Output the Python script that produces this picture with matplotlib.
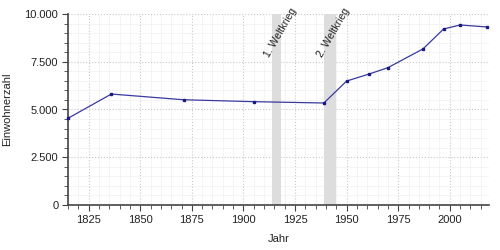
import matplotlib
matplotlib.use('Agg')
import matplotlib.pyplot as plt
from matplotlib.ticker import MultipleLocator, FuncFormatter

# Einwohnerentwicklung
jahre = [1815, 1836, 1871, 1905, 1939, 1950, 1961, 1970, 1987, 1997, 2005, 2018]
einwohner = [4540, 5810, 5510, 5410, 5340, 6490, 6860, 7190, 8170, 9215, 9425, 9320]

kriege = [(1914, 1918, '1. Weltkrieg'), (1939, 1945, '2. Weltkrieg')]

plt.rcParams['font.family'] = ['Liberation Sans', 'DejaVu Sans']
plt.rcParams['font.size'] = 8

fig = plt.figure(figsize=(5, 2.5), dpi=100)
ax = fig.add_axes([0.136, 0.18, 0.842, 0.764])

ax.set_xlim(1815, 2019)
ax.set_ylim(0, 10000)

for a, b, name in kriege:
    ax.axvspan(a, b, color='#dddddd', zorder=1, lw=0)
    ax.text((a + b) / 2 + 6.3, 10400, name, rotation=60, ha='right', va='top',
            fontsize=7.5, color='#222222', zorder=3, rotation_mode='anchor')

ax.plot(jahre, einwohner, color='#3a3a9e', lw=0.9, marker='s', ms=1.8,
        mec='#1a1a80', mfc='#1a1a80', zorder=4, clip_on=False)

ax.xaxis.set_major_locator(MultipleLocator(25))
ax.xaxis.set_minor_locator(MultipleLocator(5))
ax.yaxis.set_major_locator(MultipleLocator(2500))
ax.yaxis.set_minor_locator(MultipleLocator(500))
ax.yaxis.set_major_formatter(FuncFormatter(lambda v, p: f'{int(v):,}'.replace(',', '.')))

ax.grid(which='major', color='#c8c8c8', ls=':', lw=0.8, zorder=0)
ax.grid(which='minor', color='#f0f0f0', ls='-', lw=0.5, zorder=0)
ax.set_axisbelow(True)

for s in ['top', 'right']:
    ax.spines[s].set_visible(False)
for s in ['left', 'bottom']:
    ax.spines[s].set_color('#444444')
    ax.spines[s].set_linewidth(1.2)

ax.tick_params(which='major', length=4, color='#444444', width=0.8, labelcolor='#222222', pad=3)
ax.tick_params(which='minor', length=3, color='#444444', width=0.6)

ax.set_xlabel('Jahr', color='#222222', labelpad=7)
ax.set_ylabel('Einwohnerzahl', color='#222222', labelpad=9)

fig.savefig('out.png', dpi=100)
